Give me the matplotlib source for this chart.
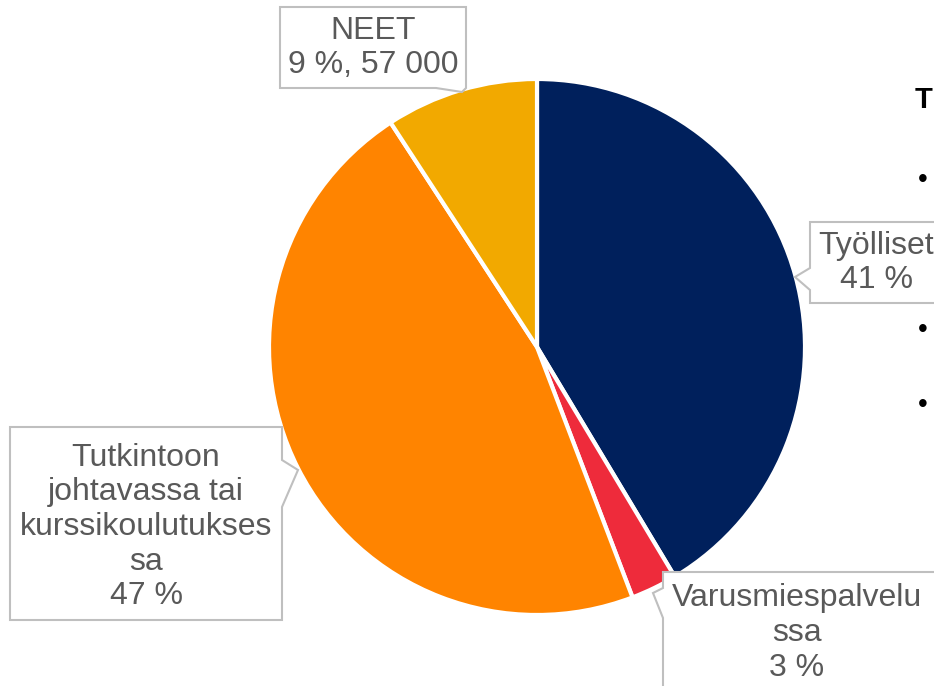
import matplotlib.pyplot as plt
from matplotlib.patches import Polygon

plt.rcParams['font.family'] = ['Liberation Sans', 'DejaVu Sans']

# -------------------------
# Data
# -------------------------
labels = ["Työlliset", "Varusmiespalvelussa", "Tutkintoon johtavassa tai kurssikoulutuksessa", "NEET"]
shares = [41.4, 2.8, 46.6, 9.2]
label_texts = [
    "Työlliset\n41 %",
    "Varusmiespalvelu\nssa\n3 %",
    "Tutkintoon\njohtavassa tai\nkurssikoulutukses\nsa\n47 %",
    "NEET\n9 %, 57 000",
]
colors = ["#00205C", "#EE2B3B", "#FF8400", "#F2A900"]

W, H = 934, 686
TXT = "#595959"
EDGE = "#BFBFBF"


def py(y):
    # pixel row (from top) -> data y
    return H - y


fig = plt.figure(figsize=(W / 100, H / 100), dpi=100)
ax = fig.add_axes([0, 0, 1, 1])

ax.pie(shares, colors=colors, startangle=90, counterclock=False,
       center=(537, py(347)), radius=268,
       wedgeprops=dict(edgecolor="white", linewidth=3))
ax.set_xlim(0, W)
ax.set_ylim(0, H)
ax.set_aspect("equal")
ax.axis("off")


def callout(pts):
    poly = Polygon([(x, py(y)) for x, y in pts], closed=True,
                   facecolor="white", edgecolor=EDGE, linewidth=1.5, zorder=3)
    ax.add_patch(poly)


# Callout boxes (rectangle + pointer tail)
# Työlliset: tail on left edge
callout([(810, 222), (960, 222), (960, 303), (810, 303), (810, 290), (795, 277), (810, 268)])
# Varusmiespalvelussa: tail on left edge
callout([(663, 572), (960, 572), (960, 720), (663, 720), (663, 618), (653, 593), (663, 588)])
# Tutkintoon: tail on right edge
callout([(10, 427), (282, 427), (282, 460), (298, 470), (282, 507), (282, 620), (10, 620)])
# NEET: small tail on bottom edge
callout([(280, 7), (466, 7), (466, 88), (462, 92), (436, 88), (280, 88)])

text_pos = [(876, 263), (797, 633), (146, 527), (373, 48)]
for (x, y), t in zip(text_pos, label_texts):
    ax.text(x, py(y), t, ha="center", va="center", multialignment="center",
            fontsize=23, color=TXT, linespacing=1.2, zorder=4)

# Cut-off slide text on the right
ax.text(915, py(100), "T", fontsize=21, fontweight="bold", color="black",
        ha="left", va="center")
for yb in [180, 330, 405]:
    ax.text(918, py(yb), "•", fontsize=20, color="black", ha="left", va="center")

fig.savefig("out.png", dpi=100)
